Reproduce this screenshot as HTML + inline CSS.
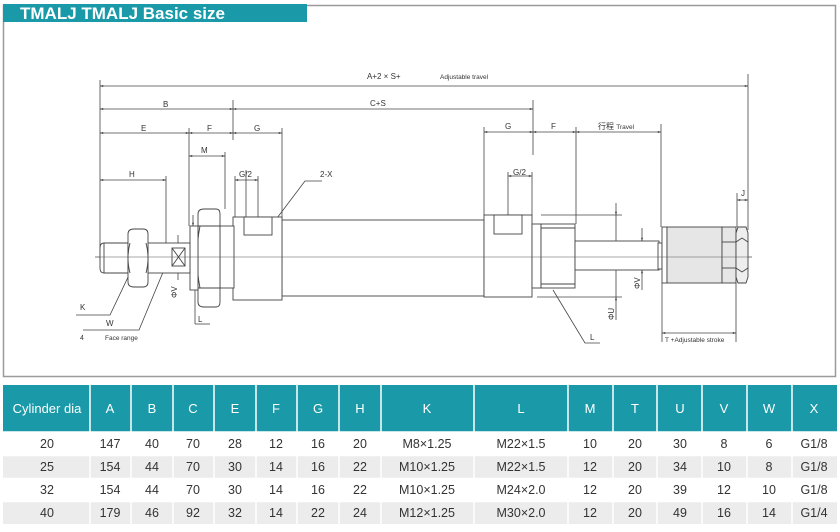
<!DOCTYPE html>
<html><head><meta charset="utf-8"><style>
html,body{margin:0;padding:0;background:#fff;}
svg{display:block;font-family:"Liberation Sans","Noto Sans CJK SC",sans-serif;}
</style></head><body>
<svg width="840" height="532" viewBox="0 0 840 532" xmlns="http://www.w3.org/2000/svg">
<defs>
<marker id="a" viewBox="0 0 10 10" refX="10" refY="5" markerWidth="5" markerHeight="4" orient="auto-start-reverse"><path d="M0,2 L10,5 L0,8 z" fill="#333"/></marker>
</defs>
<!-- frame -->
<rect x="3.5" y="5.5" width="832" height="371" fill="none" stroke="#9a9a9a" stroke-width="1.5"/>
<rect x="3" y="4" width="304" height="18" fill="#1a9aa8"/>
<text x="20" y="19" font-size="17" fill="#fff" font-weight="bold">TMALJ TMALJ Basic size</text>

<g stroke="#444" stroke-width="0.8" fill="none">
<!-- extension lines -->
<line x1="100" y1="80" x2="100" y2="260"/>
<line x1="748" y1="74" x2="748" y2="230"/>
<line x1="233" y1="100" x2="233" y2="140"/>
<line x1="533" y1="100" x2="533" y2="155"/>
<line x1="189" y1="128" x2="189" y2="226"/>
<line x1="282" y1="128" x2="282" y2="220"/>
<line x1="225" y1="152" x2="225" y2="209"/>
<line x1="166" y1="176" x2="166" y2="243"/>
<line x1="235" y1="176" x2="235" y2="217"/>
<line x1="258" y1="176" x2="258" y2="238"/>
<line x1="484" y1="127" x2="484" y2="215"/>
<line x1="576" y1="127" x2="576" y2="224"/>
<line x1="661" y1="124" x2="661" y2="227"/>
<line x1="508" y1="172" x2="508" y2="240"/>
<line x1="532" y1="172" x2="532" y2="215"/>
<line x1="737" y1="193" x2="737" y2="227"/>
<line x1="662" y1="283" x2="662" y2="342"/>
<line x1="736" y1="283" x2="736" y2="342"/>
<!-- dimension lines -->
<line x1="100" y1="86" x2="748" y2="86" marker-start="url(#a)" marker-end="url(#a)"/>
<line x1="100" y1="109" x2="233" y2="109" marker-start="url(#a)" marker-end="url(#a)"/>
<line x1="233" y1="109" x2="533" y2="109" marker-start="url(#a)" marker-end="url(#a)"/>
<line x1="100" y1="133" x2="189" y2="133" marker-start="url(#a)" marker-end="url(#a)"/>
<line x1="189" y1="133" x2="233" y2="133" marker-start="url(#a)" marker-end="url(#a)"/>
<line x1="233" y1="133" x2="282" y2="133" marker-start="url(#a)" marker-end="url(#a)"/>
<line x1="484" y1="132" x2="533" y2="132" marker-start="url(#a)" marker-end="url(#a)"/>
<line x1="533" y1="132" x2="576" y2="132" marker-start="url(#a)" marker-end="url(#a)"/>
<line x1="576" y1="132" x2="661" y2="132" marker-start="url(#a)" marker-end="url(#a)"/>
<line x1="189" y1="156" x2="225" y2="156" marker-start="url(#a)" marker-end="url(#a)"/>
<line x1="100" y1="180" x2="166" y2="180" marker-start="url(#a)" marker-end="url(#a)"/>
<line x1="235" y1="180" x2="258" y2="180" marker-start="url(#a)" marker-end="url(#a)"/>
<line x1="508" y1="176" x2="532" y2="176" marker-start="url(#a)" marker-end="url(#a)"/>
<line x1="737" y1="200" x2="748" y2="200" marker-start="url(#a)" marker-end="url(#a)"/>
<line x1="662" y1="333" x2="736" y2="333" marker-start="url(#a)" marker-end="url(#a)"/>
<!-- ΦU -->
<line x1="541" y1="215" x2="622" y2="215"/>
<line x1="537" y1="297" x2="622" y2="297"/>
<line x1="616" y1="203" x2="616" y2="215" marker-end="url(#a)"/>
<line x1="616" y1="320" x2="616" y2="297" marker-end="url(#a)"/>
<line x1="616" y1="215" x2="616" y2="297"/>
<!-- ΦV right -->
<line x1="642" y1="228" x2="642" y2="241" marker-end="url(#a)"/>
<line x1="642" y1="290" x2="642" y2="270" marker-end="url(#a)"/>
<!-- ΦV left -->
<line x1="178" y1="235" x2="178" y2="247" marker-end="url(#a)"/>
<line x1="178" y1="280" x2="178" y2="267" marker-end="url(#a)"/>
<line x1="193" y1="215" x2="193" y2="226" marker-end="url(#a)"/>
<line x1="195" y1="290" x2="195" y2="324"/><line x1="195" y1="324" x2="210" y2="324"/>
<!-- centerline -->
<line x1="95" y1="257" x2="752" y2="257" stroke-width="0.6"/>
<!-- leaders -->
<polyline points="322,181 305,181 274,222"/>
<polyline points="76,315 110,315 130,273"/>
<polyline points="83,330 139,330 171,253"/>
<polyline points="553,290 585,343 600,343"/>
<line x1="246" y1="170" x2="246" y2="241"/>
<line x1="508" y1="235" x2="508" y2="240"/>
</g>

<!-- parts -->
<g stroke="#444" stroke-width="0.9" fill="#fff">
<rect x="282" y="220" width="202" height="76"/>
<rect x="233" y="217" width="49" height="83"/>
<rect x="244" y="217" width="28" height="18"/>
<rect x="220" y="226" width="14" height="62"/>
<path d="M198,214 Q198,209 204,209 L216,209 Q220,209 220,214 L220,302 Q220,307 216,307 L204,307 Q198,307 198,302 Z"/>
<line x1="198" y1="226" x2="220" y2="226"/><line x1="198" y1="288" x2="220" y2="288"/>
<path d="M200,226 Q194,257 200,288" fill="none"/>
<rect x="190" y="226" width="8" height="64"/>
<rect x="148" y="243" width="42" height="30"/>
<rect x="172" y="248" width="13" height="18"/>
<line x1="172" y1="248" x2="185" y2="266"/><line x1="185" y1="248" x2="172" y2="266"/>
<path d="M104,243 L128,243 L128,273 L104,273 Q100,273 100,268 L100,248 Q100,243 104,243 Z"/>
<line x1="104" y1="243" x2="104" y2="273"/>
<path d="M128,234 Q128,229 134,229 L143,229 Q148,229 148,234 L148,282 Q148,287 143,287 L134,287 Q128,287 128,282 Z"/>
<path d="M130,243 Q126,258 130,273" fill="none"/><path d="M146,243 Q150,258 146,273" fill="none"/>
<!-- right -->
<rect x="484" y="215" width="48" height="82"/>
<rect x="494" y="215" width="28" height="19"/>
<rect x="532" y="224" width="9" height="64"/>
<rect x="541" y="224" width="34" height="64"/>
<line x1="541" y1="228" x2="575" y2="228"/><line x1="541" y1="284" x2="575" y2="284"/>
<rect x="575" y="241" width="84" height="29"/>
<rect x="658" y="243" width="4" height="26"/>
<rect x="662" y="227" width="5" height="56"/>
<rect x="667" y="227" width="55" height="56" fill="#e6e6e6"/>
<rect x="722" y="227" width="14" height="56" fill="#e6e6e6"/>
<line x1="722" y1="242" x2="736" y2="242"/><line x1="722" y1="268" x2="736" y2="268"/>
<path d="M738,227 L746,227 L748,233 L748,277 L746,283 L738,283 L736,277 L736,233 Z" fill="#eee"/>
<path d="M736,242 L742,238 L748,242 M736,268 L742,272 L748,268" fill="none"/>
</g>
<line x1="95" y1="257" x2="752" y2="257" stroke="#555" stroke-width="0.6"/>

<g font-size="8" fill="#333">
<text x="367" y="79">A+2 × S+</text>
<text x="440" y="79" font-size="6.5">Adjustable travel</text>
<text x="163" y="107">B</text>
<text x="370" y="106">C+S</text>
<text x="141" y="131">E</text>
<text x="207" y="131">F</text>
<text x="254" y="131">G</text>
<text x="505" y="129">G</text>
<text x="551" y="129">F</text>
<text x="598" y="129">行程 <tspan font-size="6.5">Travel</tspan></text>
<text x="201" y="153">M</text>
<text x="129" y="177">H</text>
<text x="239" y="177">G/2</text>
<text x="513" y="175">G/2</text>
<text x="320" y="177">2-X</text>
<text x="741" y="196">J</text>
<text x="80" y="310">K</text>
<text x="106" y="326">W</text>
<text x="80" y="340" font-size="7">4</text>
<text x="105" y="340" font-size="6.5">Face range</text>
<text x="198" y="322">L</text>
<text x="590" y="340">L</text>
<text x="665" y="342" font-size="6.5">T +Adjustable stroke</text>
<text transform="translate(177,298) rotate(-90)">ΦV</text>
<text transform="translate(640,289) rotate(-90)">ΦV</text>
<text transform="translate(614,320) rotate(-90)">ΦU</text>
</g>

<!-- table -->
<g>
<rect x="3" y="385" width="834" height="47" fill="#1a9aa8"/>
<rect x="3" y="456" width="834" height="22" fill="#ececec"/>
<rect x="3" y="502" width="834" height="22" fill="#ececec"/>
<g stroke="#fff" stroke-width="1.5">
<line x1="90" y1="385" x2="90" y2="524"/><line x1="131" y1="385" x2="131" y2="524"/>
<line x1="173" y1="385" x2="173" y2="524"/><line x1="214" y1="385" x2="214" y2="524"/>
<line x1="256" y1="385" x2="256" y2="524"/><line x1="297" y1="385" x2="297" y2="524"/>
<line x1="339" y1="385" x2="339" y2="524"/><line x1="381" y1="385" x2="381" y2="524"/>
<line x1="474" y1="385" x2="474" y2="524"/><line x1="568" y1="385" x2="568" y2="524"/>
<line x1="613" y1="385" x2="613" y2="524"/><line x1="657" y1="385" x2="657" y2="524"/>
<line x1="702" y1="385" x2="702" y2="524"/><line x1="747" y1="385" x2="747" y2="524"/>
<line x1="792" y1="385" x2="792" y2="524"/>
<line x1="3" y1="432" x2="837" y2="432"/><line x1="3" y1="455.5" x2="837" y2="455.5"/>
<line x1="3" y1="478.5" x2="837" y2="478.5"/><line x1="3" y1="501.5" x2="837" y2="501.5"/>
</g>
<g font-size="13" fill="#fff" text-anchor="middle">
<text x="47" y="413">Cylinder dia</text>
<text x="110" y="413">A</text><text x="152" y="413">B</text><text x="193" y="413">C</text>
<text x="235" y="413">E</text><text x="276" y="413">F</text><text x="318" y="413">G</text>
<text x="360" y="413">H</text><text x="427" y="413">K</text><text x="521" y="413">L</text>
<text x="590" y="413">M</text><text x="635" y="413">T</text><text x="680" y="413">U</text>
<text x="724" y="413">V</text><text x="769" y="413">W</text><text x="814" y="413">X</text>
</g>
<g font-size="12.5" fill="#333" text-anchor="middle">
<text x="47" y="448">20</text><text x="110" y="448">147</text><text x="152" y="448">40</text><text x="193" y="448">70</text><text x="235" y="448">28</text><text x="276" y="448">12</text><text x="318" y="448">16</text><text x="360" y="448">20</text><text x="427" y="448">M8×1.25</text><text x="521" y="448">M22×1.5</text><text x="590" y="448">10</text><text x="635" y="448">20</text><text x="680" y="448">30</text><text x="724" y="448">8</text><text x="769" y="448">6</text><text x="814" y="448">G1/8</text>
<text x="47" y="471">25</text><text x="110" y="471">154</text><text x="152" y="471">44</text><text x="193" y="471">70</text><text x="235" y="471">30</text><text x="276" y="471">14</text><text x="318" y="471">16</text><text x="360" y="471">22</text><text x="427" y="471">M10×1.25</text><text x="521" y="471">M22×1.5</text><text x="590" y="471">12</text><text x="635" y="471">20</text><text x="680" y="471">34</text><text x="724" y="471">10</text><text x="769" y="471">8</text><text x="814" y="471">G1/8</text>
<text x="47" y="494">32</text><text x="110" y="494">154</text><text x="152" y="494">44</text><text x="193" y="494">70</text><text x="235" y="494">30</text><text x="276" y="494">14</text><text x="318" y="494">16</text><text x="360" y="494">22</text><text x="427" y="494">M10×1.25</text><text x="521" y="494">M24×2.0</text><text x="590" y="494">12</text><text x="635" y="494">20</text><text x="680" y="494">39</text><text x="724" y="494">12</text><text x="769" y="494">10</text><text x="814" y="494">G1/8</text>
<text x="47" y="517">40</text><text x="110" y="517">179</text><text x="152" y="517">46</text><text x="193" y="517">92</text><text x="235" y="517">32</text><text x="276" y="517">14</text><text x="318" y="517">22</text><text x="360" y="517">24</text><text x="427" y="517">M12×1.25</text><text x="521" y="517">M30×2.0</text><text x="590" y="517">12</text><text x="635" y="517">20</text><text x="680" y="517">49</text><text x="724" y="517">16</text><text x="769" y="517">14</text><text x="814" y="517">G1/4</text>
</g>
</g>
</svg>
</body></html>
